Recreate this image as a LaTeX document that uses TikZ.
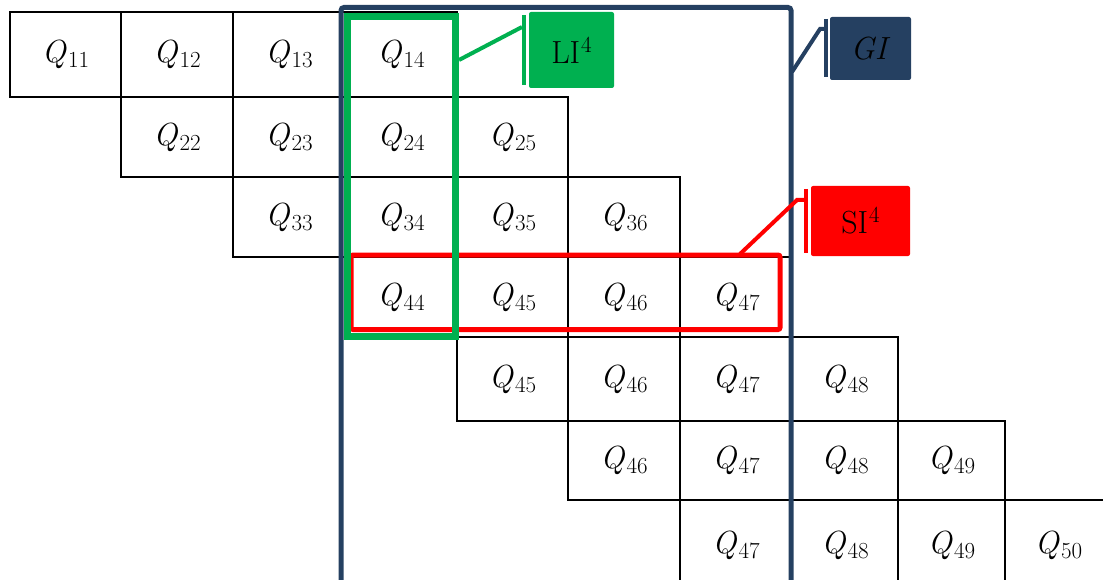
\documentclass[tikz,border=0pt]{standalone}
\usepackage{fontspec}
\usetikzlibrary{fit}
\definecolor{giblue}{HTML}{254061}
\definecolor{ligreen}{HTML}{00B050}
\definecolor{sired}{HTML}{FF0000}
\newcommand{\qq}[1]{\textit{Q}\kern1.5pt\raisebox{-5pt}{\fontsize{23}{24}\selectfont #1}}
\newcommand{\supfour}{\kern1pt\raisebox{11pt}{\fontsize{23}{24}\selectfont 4}}
\newcommand{\qcell}[6]{\node[cell, minimum width={#4-#2}, minimum height={#5-#3}] (#1) at ({(#2+#4)/2},{(#3+#5)/2}) {#6};}
\begin{document}
\begin{tikzpicture}[x=1pt,y=-1pt,
  cell/.style={draw=black, line width=1.8pt, inner sep=0pt, font=\fontsize{32}{34}\selectfont},
  giframe/.style={draw=giblue, line width=5pt, rounded corners=3pt, inner sep=0pt},
  liframe/.style={draw=ligreen, line width=7pt, inner sep=0pt},
  siframe/.style={draw=sired, line width=5pt, rounded corners=2pt, inner sep=0pt},
  callbox/.style={rounded corners=2pt, inner sep=0pt, text=black, font=\fontsize{32}{34}\selectfont},
  leader/.style={line width=4pt}]
\useasboundingbox (0,0) rectangle (1103,580);
\begin{scope}
\clip (0,0) rectangle (1103,580);
% row 1
\qcell{c11}{10}{12}{121}{97}{\qq{11}}
\qcell{c12}{121}{12}{233}{97}{\qq{12}}
\qcell{c13}{233}{12}{345}{97}{\qq{13}}
\qcell{c14}{345}{12}{457}{97}{\qq{14}}
% row 2
\qcell{c22}{121}{97}{233}{177}{\qq{22}}
\qcell{c23}{233}{97}{345}{177}{\qq{23}}
\qcell{c24}{345}{97}{457}{177}{\qq{24}}
\qcell{c25}{457}{97}{568}{177}{\qq{25}}
% row 3
\qcell{c33}{233}{177}{345}{257}{\qq{33}}
\qcell{c34}{345}{177}{457}{257}{\qq{34}}
\qcell{c35}{457}{177}{568}{257}{\qq{35}}
\qcell{c36}{568}{177}{680}{257}{\qq{36}}
% row 4
\qcell{c44}{345}{257}{457}{337}{\qq{44}}
\qcell{c45}{457}{257}{568}{337}{\qq{45}}
\qcell{c46}{568}{257}{680}{337}{\qq{46}}
\qcell{c47}{680}{257}{792}{337}{\qq{47}}
% row 5
\qcell{d45}{457}{337}{568}{421}{\qq{45}}
\qcell{d46}{568}{337}{680}{421}{\qq{46}}
\qcell{d47}{680}{337}{792}{421}{\qq{47}}
\qcell{d48}{792}{337}{898}{421}{\qq{48}}
% row 6
\qcell{e46}{568}{421}{680}{500}{\qq{46}}
\qcell{e47}{680}{421}{792}{500}{\qq{47}}
\qcell{e48}{792}{421}{898}{500}{\qq{48}}
\qcell{e49}{898}{421}{1005}{500}{\qq{49}}
% row 7
\qcell{f47}{680}{500}{792}{590}{\qq{47}}
\qcell{f48}{792}{500}{898}{590}{\qq{48}}
\qcell{f49}{898}{500}{1005}{590}{\qq{49}}
\qcell{f50}{1005}{500}{1112}{590}{\qq{50}}
% outer frame GI
\node[giframe, fit={(341,7.5)(791,640)}] (gi) {};
\end{scope}
\node[siframe, fit={(351,255)(780,329.5)}] (si) {};
\node[liframe, fit={(347,16.5)(455.5,336)}] (li) {};
% callout boxes
\node[callbox, fill=ligreen, minimum width=85, minimum height=76] (libox) at (571.5,50) {LI\supfour};
\node[callbox, fill=giblue, minimum width=81, minimum height=63] (gibox) at (870.5,48.5) {\textit{GI}};
\node[callbox, fill=sired, minimum width=99, minimum height=70] (sibox) at (860.5,221) {SI\supfour};
% leader coordinates
\coordinate (lia) at (459,60);
\coordinate (lib) at (522,27);
\coordinate (libt) at (524,15);
\coordinate (libb) at (524,85);
\coordinate (gia) at (792,72);
\coordinate (gib) at (820,29);
\coordinate (gic) at (826,29);
\coordinate (gibt) at (826,19);
\coordinate (gibb) at (826,77);
\coordinate (sia) at (740,254);
\coordinate (sib) at (797,200);
\coordinate (sic) at (806,200);
\coordinate (sibt) at (806,189);
\coordinate (sibb) at (806,253);
% leaders
\draw[leader, draw=ligreen] (lia) -- (lib);
\draw[leader, draw=ligreen] (libt) -- (libb);
\draw[leader, draw=giblue] (gia) -- (gib) -- (gic);
\draw[leader, draw=giblue] (gibt) -- (gibb);
\draw[leader, draw=sired] (sia) -- (sib) -- (sic);
\draw[leader, draw=sired] (sibt) -- (sibb);
\end{tikzpicture}
\end{document}
